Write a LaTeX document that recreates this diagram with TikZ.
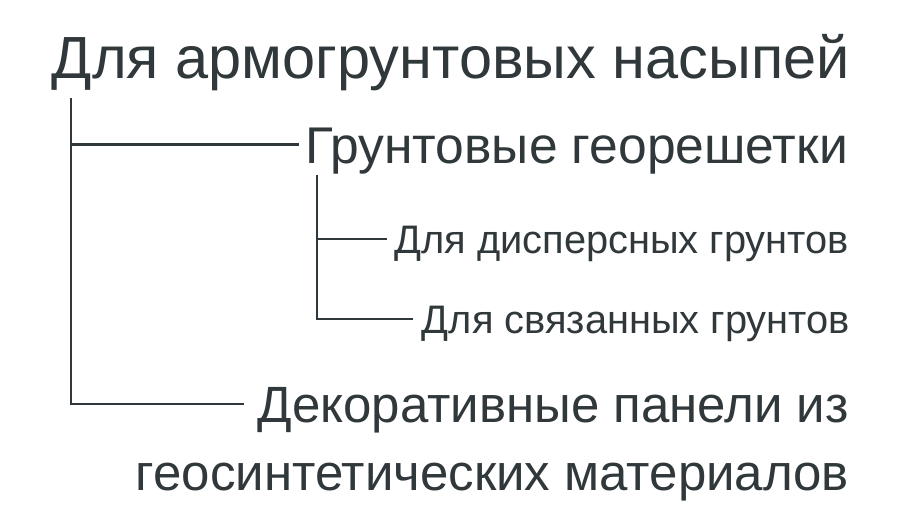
\documentclass[tikz,border=0pt]{standalone}
\usepackage{fontspec}
\setmainfont{Liberation Sans}
\usepackage{xcolor}
\definecolor{ink}{HTML}{30383B}
\usetikzlibrary{positioning}

\begin{document}
\begin{tikzpicture}[x=1pt, y=-1pt, line width=2.2pt, draw=ink]
    \useasboundingbox[fill=white] (0,0) rectangle (900,530);
    \tikzset{lbl/.style={anchor=base east, inner xsep=11pt, inner ysep=0pt, text=ink}}

    % корень
    \node[lbl, font=\fontsize{59.5}{60}\selectfont] (root) at (862,78) {Для армогрунтовых насыпей};
    \coordinate (v1) at (71,98);

    % первый уровень
    \node[lbl, inner xsep=5.5pt, font=\fontsize{51.6}{52}\selectfont, text height=37pt, text depth=0pt] (geo) at (854.5,163) {Грунтовые георешетки};
    \node[lbl, inner xsep=13pt, font=\fontsize{51}{52}\selectfont, text height=36.5pt, text depth=0pt] (dec) at (863,422) {Декоративные панели из};
    \node[lbl, font=\fontsize{51}{52}\selectfont] (dec2) at (861,490) {геосинтетических материалов};
    \coordinate (v2) at (317,175);

    % второй уровень
    \node[lbl, inner xsep=6.5pt, font=\fontsize{39.8}{40}\selectfont, text height=28.5pt, text depth=0pt] (disp) at (856.5,253) {Для дисперсных грунтов};
    \node[lbl, inner xsep=7.5pt, font=\fontsize{39.8}{40}\selectfont, text height=28.5pt, text depth=0pt] (svz) at (858.5,333) {Для связанных грунтов};

    \draw[ink] (v1) |- (geo.west);
    \draw[ink] (v1) |- (dec.west);
    \draw[ink] (v2) |- (disp.west);
    \draw[ink] (v2) |- (svz.west);
\end{tikzpicture}
\end{document}
